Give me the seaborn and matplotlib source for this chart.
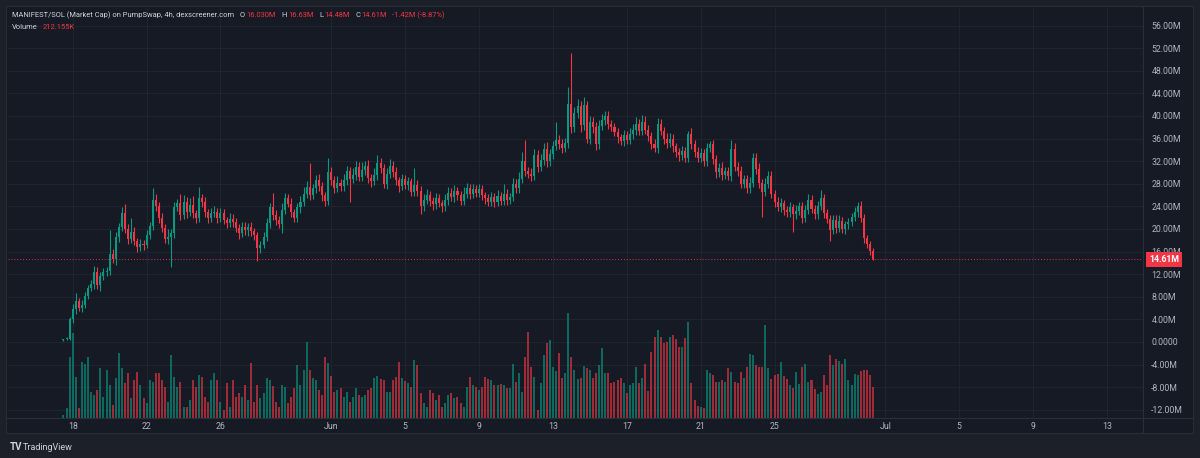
import numpy as np
import pandas as pd
import matplotlib
matplotlib.use("Agg")
import matplotlib.pyplot as plt
import matplotlib.transforms as mtransforms
from matplotlib.lines import Line2D
from matplotlib.patches import Rectangle
import seaborn as sns

# 4h candles, market cap in millions; opens follow the previous close
first_open = 0.3
closes = [
    0.5, 0.6,
    4.0, 5.8, 7.2, 6.0, 6.6, 8.2,
    9.5, 10.2, 12.4, 10.0, 11.6, 12.3,
    12.6, 15.6, 14.6, 18.5, 20.4, 22.8,
    20.0, 18.2, 19.5, 17.8, 16.8, 17.4,
    17.2, 19.0, 20.5, 25.2, 24.0, 22.0,
    20.2, 18.2, 18.6, 19.2, 23.8, 24.6,
    22.5, 24.8, 23.0, 24.3, 22.8, 22.0,
    25.4, 24.8, 23.0, 22.0, 22.9, 23.0,
    22.0, 22.8, 21.6, 21.0, 21.8, 21.2,
    20.2, 19.2, 20.3, 19.8, 20.4, 19.6,
    19.0, 16.6, 17.2, 18.6, 21.0, 23.8,
    22.4, 21.6, 20.8, 23.4, 25.4, 24.5,
    23.0, 22.0, 23.8, 24.8, 26.2, 27.4,
    26.0, 27.2, 28.6, 27.6, 26.0, 25.0,
    30.0, 28.6, 27.2, 28.2, 27.6, 28.6,
    30.2, 28.8, 29.6, 31.0, 29.2, 30.4,
    31.2, 29.0, 28.4, 29.5, 31.6, 30.8,
    28.0, 29.8, 31.2, 30.0, 28.6, 27.6,
    28.8, 27.8, 28.4, 26.6, 27.8, 26.8,
    24.0, 25.2, 26.0, 25.0, 24.4, 25.4,
    24.6, 24.0, 25.2, 26.4, 25.6, 26.8,
    26.0, 25.0, 26.2, 27.2, 26.2, 27.0,
    26.4, 27.0, 26.0, 25.4, 24.8, 25.6,
    24.8, 25.8, 25.0, 26.2, 25.2, 25.6,
    28.0, 27.2, 28.8, 32.0, 30.2, 29.8,
    29.4, 33.0, 31.0, 32.2, 34.2, 32.0,
    33.2, 34.6, 35.8, 35.0, 34.4, 35.2,
    42.2, 38.0, 40.6, 41.8, 38.4, 42.0,
    36.0, 39.0, 38.0, 35.0, 38.2, 39.2,
    40.0, 38.6, 38.0, 37.2, 36.2, 35.6,
    36.6, 35.8, 36.8, 37.6, 38.6, 37.4,
    39.0, 37.6, 36.4, 35.0, 34.4, 38.6,
    37.4, 36.0, 35.2, 36.0, 34.6, 33.6,
    33.0, 33.8, 32.6, 36.8, 35.0, 33.6,
    32.6, 33.4, 32.0, 34.4, 35.0, 32.4,
    30.0, 30.8, 29.6, 30.2, 29.4, 34.2,
    31.0, 30.2, 28.0, 28.8, 27.2, 28.2,
    32.6, 30.6, 28.2, 26.6, 28.0, 29.4,
    26.2, 24.8, 23.8, 24.6, 23.4, 23.0,
    23.8, 22.6, 23.2, 24.0, 22.0, 23.4,
    25.2, 23.6, 22.6, 24.0, 25.4, 22.8,
    21.8, 19.8, 21.6, 20.2, 21.4, 20.0,
    20.8, 21.2, 22.2, 23.0, 24.0, 22.0,
    18.4, 17.4, 16.03, 14.61,
]
wick_up = [
    0.1, 0.2,
    0.4, 1.0, 1.4, 0.6, 0.8, 0.6,
    0.5, 0.8, 1.1, 0.9, 0.7, 0.8,
    0.6, 4.2, 0.8, 1.0, 0.7, 1.1,
    1.6, 0.8, 2.5, 0.9, 0.6, 0.8,
    0.7, 0.9, 0.8, 2.1, 1.0, 0.8,
    0.9, 0.6, 1.4, 0.8, 0.9, 0.7,
    1.5, 1.2, 0.8, 1.2, 1.6, 0.6,
    2.0, 0.8, 0.9, 0.6, 0.8, 1.1,
    0.7, 0.9, 0.8, 0.6, 1.0, 0.9,
    0.8, 0.6, 1.0, 0.9, 0.7, 0.8,
    0.6, 0.5, 0.7, 0.8, 0.9, 0.8,
    2.6, 1.0, 0.7, 1.2, 1.0, 0.8,
    0.9, 0.6, 0.8, 1.0, 1.2, 1.1,
    4.3, 0.8, 0.9, 1.2, 0.7, 0.6,
    2.6, 0.9, 0.8, 1.1, 0.7, 1.2,
    1.0, 0.8, 1.2, 1.0, 0.9, 1.4,
    0.9, 1.0, 0.8, 1.2, 1.4, 0.9,
    0.7, 1.0, 1.2, 0.8, 0.9, 0.6,
    0.9, 0.7, 0.8, 0.6, 3.0, 0.8,
    0.8, 0.9, 1.0, 0.7, 0.6, 0.9,
    0.8, 0.6, 1.0, 1.1, 0.8, 1.0,
    0.7, 0.8, 1.2, 0.9, 0.7, 1.0,
    0.8, 1.0, 0.7, 0.6, 0.8, 0.9,
    0.7, 1.1, 0.8, 1.8, 0.9, 0.8,
    1.0, 0.9, 1.3, 1.6, 3.8, 0.8,
    0.9, 1.2, 1.0, 1.1, 1.0, 1.2,
    1.0, 0.9, 3.1, 0.8, 1.0, 0.9,
    3.0, 9.0, 1.0, 1.2, 0.9, 1.4,
    0.6, 1.0, 0.8, 0.9, 1.0, 1.1,
    0.8, 0.9, 0.6, 0.8, 0.7, 0.6,
    0.9, 0.7, 1.0, 0.9, 1.2, 0.8,
    1.2, 1.0, 0.8, 0.7, 0.9, 1.0,
    0.8, 0.7, 0.9, 1.0, 0.8, 0.7,
    0.8, 0.9, 0.7, 0.6, 1.0, 0.8,
    0.9, 1.0, 0.7, 0.9, 0.6, 0.8,
    0.7, 0.9, 1.0, 0.8, 0.7, 1.6,
    1.0, 0.8, 0.9, 0.7, 0.8, 1.0,
    0.9, 0.8, 1.0, 0.7, 1.1, 0.9,
    0.8, 0.7, 0.9, 0.8, 0.6, 0.7,
    0.9, 0.7, 1.0, 0.8, 0.7, 0.9,
    1.0, 0.8, 0.7, 0.9, 1.5, 0.8,
    0.7, 0.6, 0.9, 0.8, 1.0, 0.7,
    0.6, 0.8, 0.7, 0.9, 0.8, 0.9,
    0.7, 0.6, 0.5, 0.6,
]
wick_dn = [
    0.2, 0.1,
    0.2, 0.6, 0.8, 0.5, 0.7, 0.6,
    0.6, 0.5, 0.8, 0.7, 0.9, 0.6,
    0.7, 0.8, 0.6, 0.9, 0.8, 0.7,
    0.8, 0.9, 0.7, 0.6, 0.8, 0.7,
    0.9, 0.6, 0.8, 0.7, 0.9, 1.0,
    0.8, 0.7, 0.9, 5.3, 0.8, 0.7,
    0.9, 0.8, 1.0, 0.7, 0.8, 0.9,
    0.7, 0.9, 0.8, 1.0, 0.7, 0.8,
    0.9, 0.7, 0.8, 0.9, 0.6, 0.8,
    0.8, 0.9, 0.7, 0.8, 1.0, 0.9,
    0.9, 2.2, 0.8, 0.6, 0.7, 0.8,
    0.8, 0.9, 0.7, 1.5, 0.8, 0.7,
    0.9, 0.8, 0.7, 0.9, 0.8, 0.7,
    0.8, 0.7, 0.9, 0.8, 1.0, 0.9,
    0.7, 0.8, 0.9, 0.7, 0.8, 0.9,
    0.8, 4.0, 0.7, 0.9, 0.8, 0.7,
    0.9, 0.8, 1.0, 0.7, 0.8, 0.9,
    0.8, 0.9, 0.7, 0.8, 0.9, 1.0,
    0.7, 0.8, 0.9, 0.8, 0.7, 0.9,
    1.4, 0.8, 0.7, 0.9, 1.0, 0.8,
    0.7, 1.0, 0.8, 0.9, 0.7, 0.8,
    0.9, 0.8, 0.7, 0.8, 0.9, 0.7,
    0.8, 0.7, 0.9, 1.0, 0.8, 0.7,
    0.9, 0.8, 0.7, 0.8, 0.9, 0.8,
    0.7, 0.9, 0.8, 0.7, 0.9, 0.8,
    0.9, 0.8, 1.0, 0.8, 0.9, 1.0,
    0.8, 0.9, 0.7, 0.8, 0.9, 0.8,
    0.9, 1.0, 0.8, 0.9, 1.2, 0.8,
    0.8, 0.9, 1.0, 1.0, 0.8, 0.7,
    0.8, 0.9, 0.7, 0.8, 0.9, 0.8,
    0.9, 0.8, 0.7, 0.8, 0.9, 0.8,
    0.7, 0.8, 0.9, 0.8, 0.7, 0.9,
    0.8, 0.9, 0.8, 0.7, 0.9, 0.8,
    0.9, 0.8, 0.7, 0.8, 0.9, 0.8,
    0.8, 0.7, 0.9, 0.8, 0.7, 0.9,
    0.9, 0.8, 0.9, 0.7, 0.8, 0.9,
    0.8, 0.9, 0.7, 0.8, 0.9, 0.8,
    0.7, 0.8, 0.9, 4.4, 0.8, 0.7,
    0.8, 0.9, 0.7, 0.8, 0.9, 0.8,
    0.9, 3.2, 0.8, 0.7, 0.9, 0.8,
    0.8, 0.7, 0.9, 0.8, 0.7, 0.9,
    0.8, 2.0, 0.7, 0.9, 0.8, 0.7,
    0.9, 0.8, 0.7, 0.8, 0.9, 0.8,
    0.8, 0.7, 0.6, 0.13,
]
# volume in thousands
volume_k = [
    20, 68,
    415, 578, 279, 68, 381, 367,
    415, 177, 156, 190, 340, 143,
    326, 224, 88, 272, 442, 340,
    238, 306, 136, 258, 313, 224,
    136, 102, 258, 245, 306, 306,
    258, 211, 109, 428, 279, 211,
    245, 75, 75, 122, 258, 211,
    292, 279, 143, 109, 258, 306,
    258, 109, 54, 238, 75, 258,
    143, 170, 143, 224, 122, 374,
    109, 224, 136, 170, 272, 258,
    218, 109, 75, 224, 211, 102,
    143, 204, 360, 224, 326, 517,
    326, 272, 258, 190, 156, 415,
    374, 286, 177, 190, 204, 143,
    177, 109, 143, 204, 156, 143,
    156, 190, 204, 272, 286, 265,
    258, 177, 177, 258, 279, 381,
    272, 252, 238, 211, 394, 360,
    170, 102, 75, 190, 170, 122,
    156, 75, 102, 156, 170, 136,
    143, 102, 75, 211, 279, 224,
    211, 190, 211, 279, 265, 258,
    224, 224, 231, 224, 204, 204,
    367, 245, 306, 177, 415, 585,
    347, 279, 54, 238, 428, 510,
    530, 347, 320, 442, 272, 306,
    714, 415, 326, 265, 272, 354,
    340, 326, 272, 306, 360, 476,
    306, 306, 238, 245, 258, 272,
    238, 170, 224, 238, 347, 238,
    272, 367, 184, 449, 551, 598,
    551, 510, 517, 551, 564, 537,
    483, 483, 544, 653, 238, 122,
    82, 75, 68, 326, 306, 292,
    245, 245, 258, 245, 340, 313,
    245, 238, 313, 272, 347, 435,
    428, 360, 347, 347, 632, 340,
    265, 292, 299, 381, 286, 265,
    224, 204, 313, 231, 347, 367,
    245, 258, 197, 163, 177, 292,
    224, 428, 360, 401, 388, 367,
    401, 258, 224, 299, 292, 320,
    326, 326, 292, 212.155,
]

tick_dates = ["2025-05-18", "2025-05-22", "2025-05-26", "2025-06-01", "2025-06-05",
              "2025-06-09", "2025-06-13", "2025-06-17", "2025-06-21", "2025-06-25",
              "2025-07-01", "2025-07-05", "2025-07-09", "2025-07-13"]
tick_labels = ["18", "22", "26", "Jun", "5", "9", "13", "17", "21", "25", "Jul", "5", "9", "13"]
price_ticks = list(range(-12, 57, 4))

BG = "#161a25"
FRAME = "#1e2029"
UP = "#089981"
DOWN = "#f23645"
TXT = "#b2b5be"
LIGHT = "#d1d4dc"
GRID = "#212531"
SEP = "#2a2e39"

origin = pd.Timestamp("2025-05-18")
times = pd.date_range("2025-05-17 12:00", periods=len(closes), freq="4h")
df = pd.DataFrame({
    "t": ((times - origin) / pd.Timedelta(days=1)).to_numpy(),
    "close": closes,
    "volume": volume_k,
})
df["open"] = [first_open] + closes[:-1]
df["top"] = df[["open", "close"]].max(axis=1)
df["bot"] = df[["open", "close"]].min(axis=1)
df["high"] = df["top"] + np.array(wick_up)
df["low"] = df["bot"] - np.array(wick_dn)
df["dir"] = np.where(df["close"] >= df["open"], "up", "down")
tick_pos = [(pd.Timestamp(d) - origin) / pd.Timedelta(days=1) for d in tick_dates]

sns.set_theme(style="dark", rc={"axes.facecolor": BG, "figure.facecolor": FRAME})
plt.rcParams["font.family"] = ["Roboto", "DejaVu Sans"]

W, H = 1200, 458
fig = plt.figure(figsize=(W / 100, H / 100), dpi=100)
fig.add_artist(Rectangle((6 / W, 1 - 433 / H), (1193 - 6) / W, (433 - 6) / H,
                         transform=fig.transFigure, facecolor=BG, edgecolor=SEP, linewidth=0.8, zorder=0))

ax = fig.add_axes([8 / W, 1 - 418 / H, (1143 - 8) / W, (418 - 8) / H])
vax = ax.twinx()

# volume overlay at the bottom of the pane (drawn over the grid)
sns.barplot(data=df, x="t", y="volume", hue="dir", palette={"up": UP, "down": DOWN},
            native_scale=True, dodge=False, width=0.65, alpha=0.62, saturation=1,
            errorbar=None, legend=False, linewidth=0, edgecolor="none", ax=vax)
vax.set_ylim(0, 410 * 6.8)
vax.set_yticks([])
vax.set_ylabel("")
vax.set_xlabel("")
for s in vax.spines.values():
    s.set_visible(False)

colors = df["dir"].map({"up": UP, "down": DOWN}).tolist()
ax.vlines(df["t"], df["low"], df["high"], colors=colors, linewidth=0.8)
ax.bar(df["t"], np.maximum(df["top"] - df["bot"], 0.15), bottom=df["bot"], width=0.11,
       color=colors, linewidth=0)

last = closes[-1]
ax.axhline(last, color=DOWN, linestyle=(0, (1, 2)), linewidth=0.7, alpha=0.9)

ax.set_xlim((8 - 72.7) / 18.47, (1143 - 72.7) / 18.47)
ax.set_ylim(-13.45, 59.1)
ax.set_xticks(tick_pos)
ax.set_xticklabels(tick_labels)
ax.set_yticks(price_ticks)
ax.set_yticklabels(["0.0000" if v == 0 else f"{v:.2f}M" for v in price_ticks])
ax.yaxis.tick_right()
ax.tick_params(axis="y", length=0, pad=6, labelsize=6.3, labelcolor=TXT)
ax.tick_params(axis="x", length=0, pad=3, labelsize=6.3, labelcolor=TXT)
ax.grid(True, color=GRID, linewidth=0.7)
ax.set_axisbelow(True)
for s in ax.spines.values():
    s.set_visible(False)

tr = mtransforms.blended_transform_factory(ax.transAxes, ax.transData)
ax.text((1149 - 8) / (1143 - 8), last, f"{last:.2f}M", transform=tr, ha="left", va="center",
        color="white", fontsize=6.3, fontweight="bold", clip_on=False, zorder=10,
        bbox=dict(boxstyle="square,pad=0.3", fc=DOWN, ec="none"))

# separators of the chart layout
fig.add_artist(Line2D([1143 / W, 1143 / W], [1 - 433 / H, 1 - 6 / H], transform=fig.transFigure,
                      color=SEP, linewidth=0.8))
fig.add_artist(Line2D([6 / W, 1193 / W], [1 - 418 / H, 1 - 418 / H], transform=fig.transFigure,
                      color=SEP, linewidth=0.8))

# legend lines at the top left
renderer = fig.canvas.get_renderer()


def chain(parts, x_px, y_px, size):
    x = x_px
    for s, c, gap in parts:
        x += gap
        txt = fig.text(x / W, 1 - y_px / H, s, color=c, fontsize=size, va="center", ha="left")
        x += txt.get_window_extent(renderer=renderer).width


chain([("MANIFEST/SOL (Market Cap) on PumpSwap, 4h, dexscreener.com", LIGHT, 0),
       ("O", LIGHT, 6), ("16.030M", DOWN, 1),
       ("H", LIGHT, 6), ("16.63M", DOWN, 1),
       ("L", LIGHT, 6), ("14.48M", DOWN, 1),
       ("C", LIGHT, 6), ("14.61M", DOWN, 1),
       ("-1.42M (-8.87%)", DOWN, 5)], 12, 15, 5.45)
chain([("Volume", LIGHT, 0), ("212.155K", DOWN, 5)], 12, 27, 5.45)

fig.text(10 / W, 1 - 447 / H, "TV", color=LIGHT, fontsize=7, fontweight="bold", va="center")
fig.text(23 / W, 1 - 447 / H, "TradingView", color=LIGHT, fontsize=6.5, va="center")

fig.savefig("out.png", dpi=100, facecolor=FRAME)
